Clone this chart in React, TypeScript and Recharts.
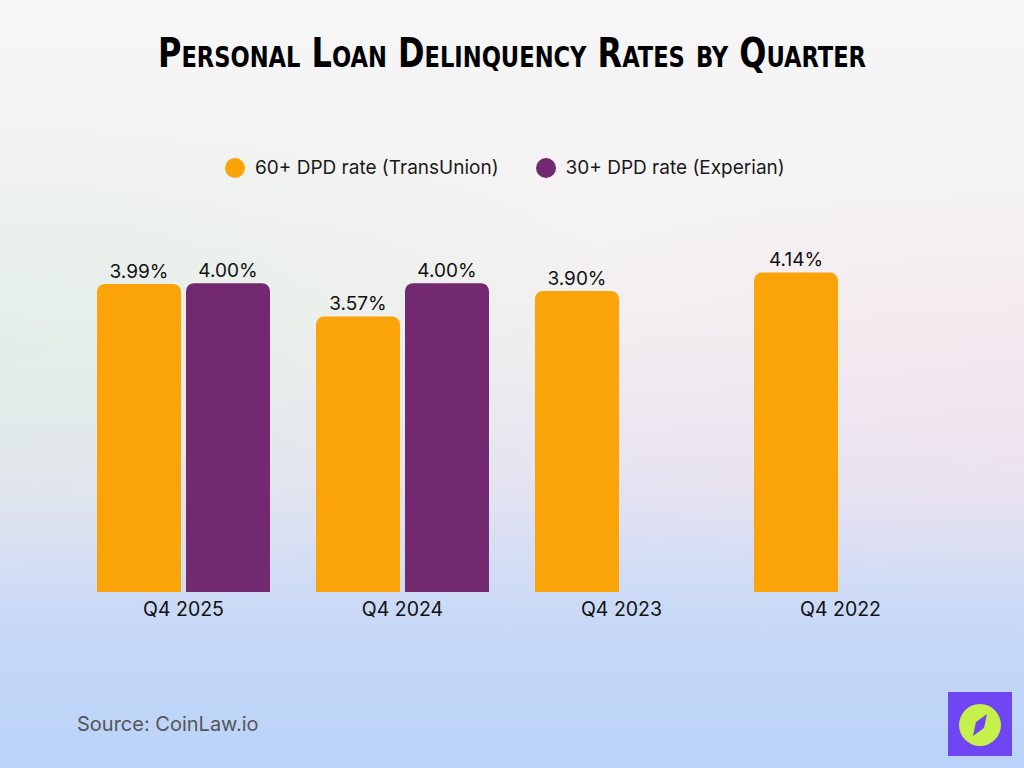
import React from 'react';
import { BarChart, Bar, XAxis, YAxis, LabelList } from 'recharts';

const quarters = ['Q4 2025', 'Q4 2024', 'Q4 2023', 'Q4 2022'];
const transUnion60 = [3.99, 3.57, 3.9, 4.14];
const experian30: (number | null)[] = [4.0, 4.0, null, null];
const seriesNames = ['60+ DPD rate (TransUnion)', '30+ DPD rate (Experian)'];
const seriesColors = ['#FBA409', '#73296F'];

const data = quarters.map((q, i) => ({
  quarter: q,
  tu: transUnion60[i],
  ex: experian30[i],
}));

const FONT = 'Inter, "Open Sans", sans-serif';

const fmt = (v: any) => (v == null ? '' : `${Number(v).toFixed(2)}%`);

const App: React.FC = () => {
  return (
    <div
      style={{
        position: 'absolute',
        top: 0,
        left: 0,
        width: 1024,
        height: 768,
        overflow: 'hidden',
        fontFamily: FONT,
        background:
          'linear-gradient(180deg, #f6f6f6 0%, #f4f1f1 40%, #e6e4f1 62%, #c9d9f6 80%, #b9d3f9 100%)',
      }}
    >
      {/* soft tint on the sides */}
      <div
        style={{
          position: 'absolute',
          inset: 0,
          background:
            'radial-gradient(ellipse at 0% 45%, rgba(214,236,224,0.55) 0%, rgba(214,236,224,0) 45%), radial-gradient(ellipse at 100% 50%, rgba(245,224,236,0.5) 0%, rgba(245,224,236,0) 40%)',
        }}
      />
      <svg width={1024} height={100} style={{ position: 'absolute', top: 0, left: 0 }}>
        <text
          x={512}
          y={67}
          textAnchor="middle"
          textLength={708}
          lengthAdjust="spacingAndGlyphs"
          fontFamily='"DejaVu Sans Condensed", "DejaVu Sans", sans-serif'
          fontWeight="bold"
          fontSize={41}
          fill="#000"
          style={{ fontVariant: 'small-caps', fontStretch: 'condensed' }}
        >
          Personal Loan Delinquency Rates by Quarter
        </text>
      </svg>

      {/* legend */}
      <div
        style={{
          position: 'absolute',
          top: 156,
          left: 225,
          display: 'flex',
          gap: 37,
          fontSize: 19,
          color: '#1a1a1a',
          whiteSpace: 'nowrap',
        }}
      >
        {seriesNames.map((n, i) => (
          <div key={n} style={{ display: 'flex', alignItems: 'center' }}>
            <span
              style={{
                display: 'inline-block',
                width: 20,
                height: 20,
                borderRadius: 10,
                background: seriesColors[i],
                marginRight: 10,
              }}
            />
            <span>{n}</span>
          </div>
        ))}
      </div>

      <div style={{ position: 'absolute', top: 0, left: 0 }}>
        <BarChart
          width={1024}
          height={768}
          data={data}
          margin={{ top: 206, right: 74, bottom: 146, left: 74 }}
          barSize={84}
          barGap={5}
        >
          <XAxis
            dataKey="quarter"
            axisLine={false}
            tickLine={false}
            height={30}
            tickMargin={4}
            tick={{ fill: '#111', fontSize: 19.5, fontFamily: FONT }}
          />
          <YAxis hide domain={[0, 5]} />
          <Bar dataKey="tu" fill={seriesColors[0]} radius={[8, 8, 0, 0]} isAnimationActive={false}>
            <LabelList
              dataKey="tu"
              position="top"
              offset={6}
              formatter={fmt}
              style={{ fill: '#111', fontSize: 19, fontFamily: FONT }}
            />
          </Bar>
          <Bar dataKey="ex" fill={seriesColors[1]} radius={[8, 8, 0, 0]} isAnimationActive={false}>
            <LabelList
              dataKey="ex"
              position="top"
              offset={6}
              formatter={fmt}
              style={{ fill: '#111', fontSize: 19, fontFamily: FONT }}
            />
          </Bar>
        </BarChart>
      </div>

      <div
        style={{
          position: 'absolute',
          left: 77,
          top: 712,
          fontSize: 20,
          color: '#555',
        }}
      >
        Source: CoinLaw.io
      </div>

      {/* logo badge */}
      <div
        style={{
          position: 'absolute',
          left: 948,
          top: 692,
          width: 64,
          height: 64,
          background: '#7046F4',
        }}
      >
        <svg width={64} height={64}>
          <circle cx={32} cy={33} r={21} fill="#C6F04B" />
          <polygon points="39,22 36,36 25,44 28,30" fill="#7046F4" />
        </svg>
      </div>
    </div>
  );
};

export default App;
